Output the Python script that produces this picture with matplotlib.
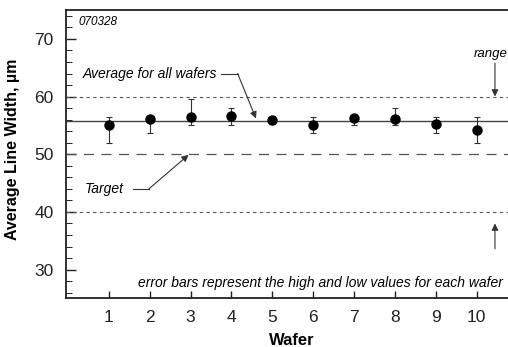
import matplotlib.pyplot as plt
from matplotlib.ticker import MultipleLocator

plt.rcParams['font.family'] = ['Liberation Sans', 'DejaVu Sans']

wafers = [1, 2, 3, 4, 5, 6, 7, 8, 9, 10]
avg_width = [55.0, 56.1, 56.4, 56.7, 55.9, 55.0, 56.2, 56.1, 55.2, 54.2]
high_width = [56.5, 56.5, 59.5, 58.0, 56.3, 56.5, 56.7, 58.0, 56.5, 56.5]
low_width = [52.0, 53.7, 55.0, 55.0, 55.2, 53.6, 55.0, 55.0, 53.6, 52.0]

overall_avg = 55.8
target = 50
range_hi = 60
range_lo = 40

fig = plt.figure(figsize=(5.08, 3.47), dpi=100)
ax = fig.add_axes([0.130, 0.140, 0.8886, 0.831])

yerr = [[a - l for a, l in zip(avg_width, low_width)],
        [h - a for a, h in zip(avg_width, high_width)]]
ax.errorbar(wafers, avg_width, yerr=yerr, fmt='o', color='black', ms=6.5,
            ecolor='#333333', elinewidth=0.8, capsize=2.5, capthick=0.8, zorder=3)

ax.axhline(overall_avg, color='#444444', lw=1.0)
ax.axhline(range_hi, color='#555555', lw=0.8, ls=(0, (3, 3)))
ax.axhline(range_lo, color='#555555', lw=0.8, ls=(0, (3, 3)))
ax.axhline(target, color='#555555', lw=0.9, ls=(0, (8, 6)))

ax.set_xlim(-0.05, 11.0)
ax.set_ylim(25, 75)
ax.set_xticks(wafers)
ax.yaxis.set_major_locator(MultipleLocator(10))
ax.yaxis.set_minor_locator(MultipleLocator(2))
ax.tick_params(axis='both', direction='in', labelsize=12.5, width=1, colors='#222222')
ax.tick_params(axis='y', which='major', length=7, pad=9)
ax.tick_params(axis='y', which='minor', length=4, direction='in')
ax.tick_params(axis='x', length=5, pad=8)
for s in ['left', 'bottom', 'top']:
    ax.spines[s].set_linewidth(1.3)
    ax.spines[s].set_color('#222222')
ax.spines['right'].set_visible(False)

ax.set_xlabel('Wafer', fontsize=12, fontweight='bold', labelpad=6)
ax.set_ylabel('Average Line Width, µm', fontsize=11.5, fontweight='bold')
ax.yaxis.set_label_coords(-0.102, 0.517)

arrow = dict(arrowstyle='-|>', color='#333333', lw=0.8,
             mutation_scale=10, shrinkA=0, shrinkB=0)

ax.text(0.25, 73.0, '070328', fontsize=8.5, style='italic', va='center')
ax.text(0.35, 64.0, 'Average for all wafers', fontsize=10, style='italic', va='center')
ax.plot([3.75, 4.15], [64.0, 64.0], color='#333333', lw=0.8)
ax.annotate('', xy=(4.6, 56.2), xytext=(4.15, 64.0), arrowprops=arrow)
ax.text(0.4, 44.0, 'Target', fontsize=10, style='italic', va='center')
ax.plot([1.6, 1.98], [44.0, 44.0], color='#333333', lw=0.8)
ax.annotate('', xy=(2.95, 49.9), xytext=(1.98, 44.0), arrowprops=arrow)

ax.text(9.93, 67.3, 'range', fontsize=9.5, style='italic', va='center')
ax.annotate('', xy=(10.45, 60.0), xytext=(10.45, 65.8), arrowprops=arrow)
ax.annotate('', xy=(10.45, 38.0), xytext=(10.45, 33.6), arrowprops=arrow)

ax.text(10.64, 27.6, 'error bars represent the high and low values for each wafer',
        fontsize=10, style='italic', ha='right', va='center')

fig.savefig('out.png', dpi=100)
